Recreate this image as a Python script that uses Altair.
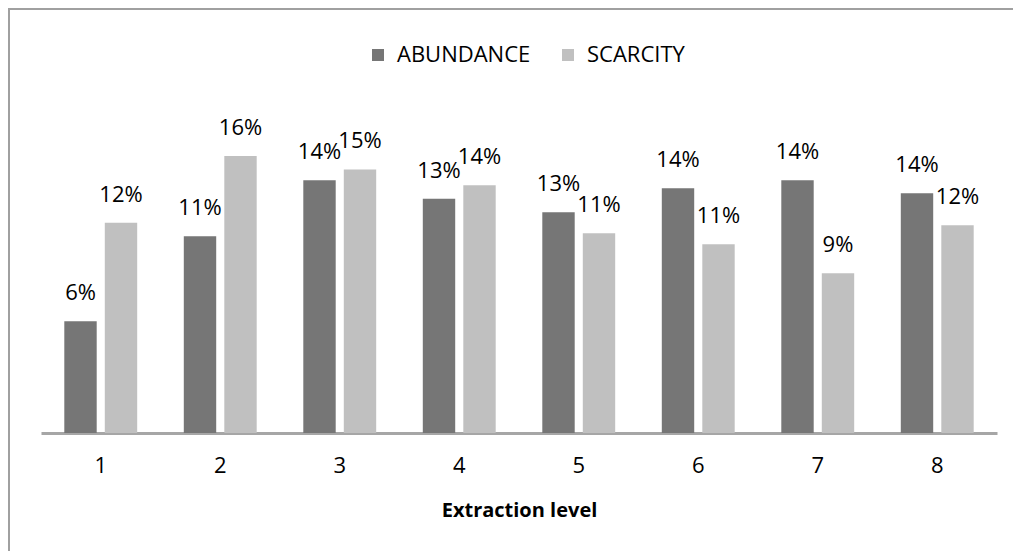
import altair as alt
import pandas as pd

levels = ["1", "2", "3", "4", "5", "6", "7", "8"]
series = ["ABUNDANCE", "SCARCITY"]
abundance = [6.38, 11.23, 14.42, 13.36, 12.59, 13.96, 14.42, 13.68]
scarcity = [11.99, 15.81, 15.04, 14.13, 11.40, 10.77, 9.12, 11.85]
colors = ["#767676", "#c0c0c0"]

rows = []
for lvl, a, s in zip(levels, abundance, scarcity):
    rows.append({"level": lvl, "series": series[0], "value": a / 100})
    rows.append({"level": lvl, "series": series[1], "value": s / 100})
df = pd.DataFrame(rows)

FONT = "Open Sans"

x_enc = alt.X("level:N", sort=levels,
              scale=alt.Scale(paddingInner=0.39, paddingOuter=0.195),
              axis=alt.Axis(title="Extraction level", labelAngle=0, ticks=False,
                            tickSize=0, labelPadding=22, labelFontSize=22,
                            labelFont=FONT, labelColor="#000000",
                            titleFont=FONT, titleFontSize=20, titleFontWeight="bold",
                            titleColor="#000000", titlePadding=24,
                            domainColor="#a6a6a6", domainWidth=3, grid=False))
xo_enc = alt.XOffset("series:N", sort=series, scale=alt.Scale(paddingInner=0.2))
y_enc = alt.Y("value:Q", scale=alt.Scale(domain=[0, 0.19], nice=False), axis=None)

bars = alt.Chart(df).mark_bar().encode(
    x=x_enc,
    xOffset=xo_enc,
    y=y_enc,
    color=alt.Color("series:N", sort=series,
                    scale=alt.Scale(domain=series, range=colors),
                    legend=alt.Legend(title=None, orient="none", legendX=326, legendY=-56,
                                      direction="horizontal", symbolType="square",
                                      symbolSize=144, symbolStrokeWidth=0,
                                      labelFont=FONT, labelFontSize=22, labelColor="#000000",
                                      labelOffset=8, columnPadding=26)),
)

labels = alt.Chart(df).mark_text(baseline="bottom", dy=-16, font=FONT, fontSize=22,
                                 color="#000000").encode(
    x=alt.X("level:N", sort=levels),
    xOffset=alt.XOffset("series:N", sort=series),
    y=alt.Y("value:Q"),
    text=alt.Text("value:Q", format=".0%"),
)

one = pd.DataFrame({"f": [0]})
frame_left = alt.Chart(one).mark_rule(color="#a0a0a0", strokeWidth=2).encode(
    x=alt.value(-32), y=alt.value(-91), y2=alt.value(700),
)
frame_top = alt.Chart(one).mark_rule(color="#a0a0a0", strokeWidth=2).encode(
    x=alt.value(-33), x2=alt.value(1500), y=alt.value(-91),
)

chart = alt.layer(frame_left, frame_top, bars, labels).properties(
    width=956, height=333,
    background="#ffffff",
    autosize=alt.AutoSizeParams(type="none"),
    padding={"left": 33, "top": 92, "right": 16, "bottom": 118},
).configure_view(stroke="transparent", strokeWidth=0)

chart.save("out.html", embed_options={"renderer": "svg", "actions": False})
